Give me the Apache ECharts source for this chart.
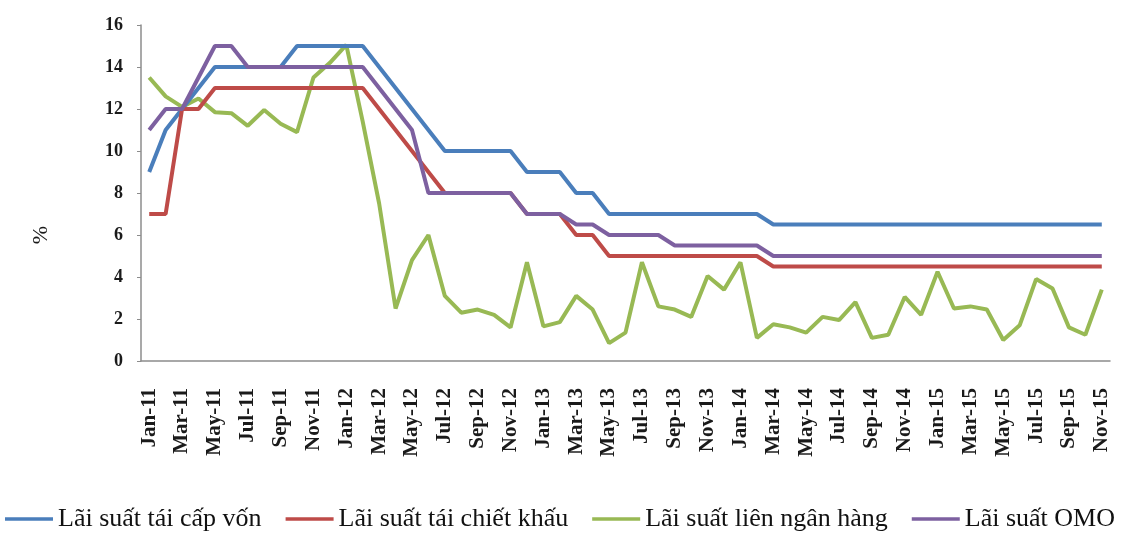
<!DOCTYPE html>
<html>
<head>
<meta charset="utf-8">
<title>Lãi suất</title>
<script src="https://cdn.jsdelivr.net/npm/echarts@6/dist/echarts.min.js"></script>
<style>
  html, body { margin: 0; padding: 0; background: #ffffff; }
  #chart { width: 1125px; height: 533px; }
</style>
</head>
<body>
<div id="chart"></div>
<script>
// Monthly categories, Jan-11 .. Nov-15
const months = [
  'Jan-11','Feb-11','Mar-11','Apr-11','May-11','Jun-11','Jul-11','Aug-11','Sep-11','Oct-11','Nov-11','Dec-11',
  'Jan-12','Feb-12','Mar-12','Apr-12','May-12','Jun-12','Jul-12','Aug-12','Sep-12','Oct-12','Nov-12','Dec-12',
  'Jan-13','Feb-13','Mar-13','Apr-13','May-13','Jun-13','Jul-13','Aug-13','Sep-13','Oct-13','Nov-13','Dec-13',
  'Jan-14','Feb-14','Mar-14','Apr-14','May-14','Jun-14','Jul-14','Aug-14','Sep-14','Oct-14','Nov-14','Dec-14',
  'Jan-15','Feb-15','Mar-15','Apr-15','May-15','Jun-15','Jul-15','Aug-15','Sep-15','Oct-15','Nov-15'
];

// Lãi suất tái cấp vốn (%)
const refinancing = [
  9, 11, 12, 13, 14, 14, 14, 14, 14, 15, 15, 15,
  15, 15, 14, 13, 12, 11, 10, 10, 10, 10, 10, 9,
  9, 9, 8, 8, 7, 7, 7, 7, 7, 7, 7, 7,
  7, 7, 6.5, 6.5, 6.5, 6.5, 6.5, 6.5, 6.5, 6.5, 6.5, 6.5,
  6.5, 6.5, 6.5, 6.5, 6.5, 6.5, 6.5, 6.5, 6.5, 6.5, 6.5
];

// Lãi suất tái chiết khấu (%)
const discount = [
  7, 7, 12, 12, 13, 13, 13, 13, 13, 13, 13, 13,
  13, 13, 12, 11, 10, 9, 8, 8, 8, 8, 8, 7,
  7, 7, 6, 6, 5, 5, 5, 5, 5, 5, 5, 5,
  5, 5, 4.5, 4.5, 4.5, 4.5, 4.5, 4.5, 4.5, 4.5, 4.5, 4.5,
  4.5, 4.5, 4.5, 4.5, 4.5, 4.5, 4.5, 4.5, 4.5, 4.5, 4.5
];

// Lãi suất liên ngân hàng (%)
const interbank = [
  13.5, 12.6, 12.1, 12.5, 11.85, 11.8, 11.2, 11.95, 11.3, 10.9, 13.5, 14.2,
  15.05, 11.4, 7.5, 2.5, 4.8, 6.0, 3.1, 2.3, 2.45, 2.2, 1.6, 4.7,
  1.65, 1.85, 3.1, 2.45, 0.85, 1.35, 4.7, 2.6, 2.45, 2.1, 4.05, 3.4,
  4.7, 1.1, 1.75, 1.6, 1.35, 2.1, 1.95, 2.8, 1.1, 1.25, 3.05, 2.2,
  4.25, 2.5, 2.6, 2.45, 1.0, 1.7, 3.9, 3.45, 1.6, 1.25, 3.4
];

// Lãi suất OMO (%)
const omo = [
  11, 12, 12, 13.5, 15, 15, 14, 14, 14, 14, 14, 14,
  14, 14, 13, 12, 11, 8, 8, 8, 8, 8, 8, 7,
  7, 7, 6.5, 6.5, 6, 6, 6, 6, 5.5, 5.5, 5.5, 5.5,
  5.5, 5.5, 5, 5, 5, 5, 5, 5, 5, 5, 5, 5,
  5, 5, 5, 5, 5, 5, 5, 5, 5, 5, 5
];

const seriesNames = ['Lãi suất tái cấp vốn', 'Lãi suất tái chiết khấu', 'Lãi suất liên ngân hàng', 'Lãi suất OMO'];
const seriesColors = ['#4A7EBB', '#BE4B48', '#98B954', '#7D60A0'];
const seriesData = [refinancing, discount, interbank, omo];

const FONT = '"Liberation Serif", "Times New Roman", serif';

const chart = echarts.init(document.getElementById('chart'), null, { renderer: 'canvas' });

chart.setOption({
  animation: false,
  backgroundColor: '#ffffff',
  textStyle: { fontFamily: FONT },
  grid: { left: 141, right: 15, top: 25, bottom: 172, containLabel: false },
  // unit label for the value axis, sitting a little below mid-height
  graphic: [{
    type: 'text',
    left: 30,
    top: 226,
    rotation: Math.PI / 2,
    style: { text: '%', font: '22px ' + FONT, fill: '#1a1a1a' }
  }],
  legend: {
    data: seriesNames,
    left: 5,
    top: 506,
    width: 1125,
    padding: 0,
    icon: 'rect',
    itemWidth: 48,
    itemHeight: 3.5,
    itemGap: 24,
    textStyle: { fontFamily: FONT, fontSize: 26, color: '#111111', padding: [0, 0, 0, 0] }
  },
  xAxis: {
    type: 'category',
    data: months,
    boundaryGap: true,
    axisLine: { lineStyle: { color: '#8c8c8c', width: 1.5 } },
    axisTick: { show: false },
    axisLabel: {
      interval: 1,
      rotate: 90,
      margin: 27,
      fontFamily: FONT,
      fontSize: 21,
      fontWeight: 'bold',
      color: '#1a1a1a'
    },
    splitLine: { show: false }
  },
  yAxis: {
    type: 'value',
    min: 0,
    max: 16,
    interval: 2,
    axisLine: { show: true, lineStyle: { color: '#8c8c8c', width: 1.5 } },
    axisTick: { show: true, length: 4, lineStyle: { color: '#8c8c8c' } },
    axisLabel: {
      margin: 18,
      fontFamily: FONT,
      fontSize: 18,
      fontWeight: 'bold',
      color: '#1a1a1a'
    },
    splitLine: { show: false }
  },
  series: seriesNames.map((name, i) => ({
    name: name,
    type: 'line',
    data: seriesData[i],
    symbol: 'none',
    smooth: false,
    color: seriesColors[i],
    lineStyle: { color: seriesColors[i], width: 4 },
    z: i === 2 ? 1 : 2
  }))
});
</script>
</body>
</html>
